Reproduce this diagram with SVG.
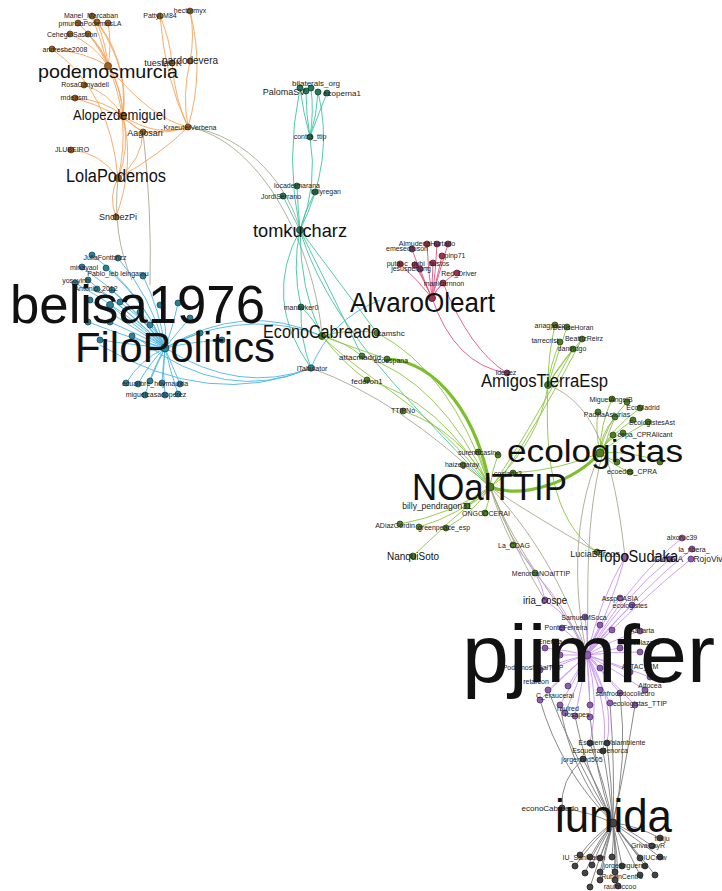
<svg xmlns="http://www.w3.org/2000/svg" width="722" height="891" viewBox="0 0 722 891">
<style>
path{fill:none;stroke-width:0.9}
.eo path{stroke:#f3a55c}
.eb path{stroke:#4db6e2}
.et path{stroke:#3fc3a0}
.ep path{stroke:#e2557f}
.eg path{stroke:#8bc540}
.eu path{stroke:#c894f0}
.ek path{stroke:#7d7d7d}
.ex path{stroke:#a8a88e}
.thick{stroke:#7cbf2c !important;stroke-width:3.2}
circle{stroke-width:0.8}
.no circle{fill:#a0621c;stroke:#5d3a12}
.nb circle{fill:#2d7f97;stroke:#1a4d5d}
.nt circle{fill:#227a5a;stroke:#124433}
.np circle{fill:#9e3353;stroke:#5e1a30}
.ng circle{fill:#4f7d22;stroke:#2c4a12}
.nu circle{fill:#8c5cae;stroke:#55336e}
.nk circle{fill:#444;stroke:#222}
text{font-family:"Liberation Sans",Arial,sans-serif;fill:#222}
.s{font-size:7px;text-anchor:middle}
.m{font-size:9px;text-anchor:middle}
.L{fill:#111}
</style>
<rect width="722" height="891" fill="#fff"/>
<g id="connectors">
<g class="eo">
<path d="M92,16 Q102,42 108,66"/><path d="M78,23 Q96,40 108,66"/><path d="M97,22 Q106,44 108,66"/><path d="M108,23 Q112,45 108,66"/>
<path d="M70,34 Q95,45 108,66"/><path d="M88,34 Q103,48 108,66"/><path d="M52,49 Q85,52 108,66"/>
<path d="M108,66 Q122,88 123,116"/><path d="M108,66 Q132,120 118,178"/><path d="M92,16 Q128,55 123,116"/>
<path d="M97,22 Q130,70 123,116"/><path d="M88,34 Q120,70 123,116"/><path d="M84,85 Q108,92 123,116"/>
<path d="M75,98 Q105,100 123,116"/><path d="M75,98 Q115,110 143,132"/><path d="M123,116 Q135,128 143,132"/>
<path d="M143,132 Q168,134 188,127"/><path d="M123,116 Q158,138 188,127"/><path d="M108,66 Q150,118 188,127"/>
<path d="M160,16 Q165,80 188,127"/><path d="M190,11 Q205,70 188,127"/><path d="M190,61 Q182,95 188,127"/>
<path d="M172,63 Q175,100 188,127"/><path d="M160,16 Q170,40 172,63"/><path d="M190,11 Q195,35 190,61"/>
<path d="M118,178 Q142,160 143,132"/><path d="M118,178 Q160,155 188,127"/><path d="M71,150 Q100,152 118,178"/>
<path d="M116,217 Q108,196 118,178"/><path d="M123,116 Q130,150 118,178"/><path d="M116,217 Q135,165 123,116"/>
<path d="M52,49 Q110,90 118,178"/>
</g>
<g class="ex">
<path d="M188,127 C250,135 290,190 300,230"/>
<path d="M188,127 C262,140 315,250 322,336"/>
<path d="M118,178 Q112,235 132,280"/>
<path d="M143,132 Q152,210 150,285"/>
<path d="M548,385 C600,405 615,470 625,557"/>
<path d="M490,487 Q500,520 513,545"/>
<path d="M490,487 Q510,540 535,573"/>
<path d="M490,487 Q520,560 545,600"/>
<path d="M490,487 C520,560 560,600 587,655"/>
<path d="M490,487 C540,540 570,600 587,655"/>
<path d="M490,487 Q540,520 597,552"/>
<path d="M600,453 C570,520 575,600 587,655"/>
<path d="M615,417 C580,500 590,600 587,655"/>
<path d="M311,368 Q400,400 490,487"/>
</g>
<g class="et">
<path d="M300,88 Q303,112 310,137"/><path d="M306,91 Q306,115 310,137"/><path d="M311,88 Q314,112 310,137"/>
<path d="M318,92 Q317,115 310,137"/><path d="M327,93 Q318,115 310,137"/>
<path d="M300,88 Q285,160 300,230"/><path d="M318,92 Q335,160 300,230"/>
<path d="M310,137 Q318,185 300,230"/><path d="M297,186 Q298,210 300,230"/><path d="M315,192 Q305,210 300,230"/>
<path d="M283,196 Q292,215 300,230"/><path d="M300,230 Q292,268 301,307"/><path d="M300,230 Q300,290 322,336"/>
<path d="M300,230 Q262,300 311,368"/><path d="M300,230 Q330,290 362,356"/><path d="M300,230 Q345,290 377,333"/>
<path d="M301,307 Q315,320 322,336"/><path d="M301,307 Q300,340 311,368"/>
<path d="M300,230 C330,330 420,410 490,487"/>
</g>
<g class="eb">
<path d="M92,255 Q140,290 165,348"/><path d="M118,258 Q150,295 165,348"/><path d="M82,267 Q130,300 165,348"/>
<path d="M106,268 Q145,300 165,348"/><path d="M143,276 Q160,310 165,348"/><path d="M75,283 Q125,310 165,348"/>
<path d="M88,280 Q130,312 165,348"/><path d="M97,289 Q135,315 165,348"/><path d="M112,290 Q145,318 165,348"/>
<path d="M90,300 Q130,325 165,348"/><path d="M120,302 Q150,325 165,348"/><path d="M160,305 Q168,328 165,348"/>
<path d="M178,303 Q172,330 165,348"/><path d="M140,312 Q158,330 165,348"/><path d="M110,322 Q140,335 165,348"/>
<path d="M88,322 Q130,338 165,348"/><path d="M150,325 Q160,338 165,348"/><path d="M100,340 Q135,345 165,348"/>
<path d="M132,336 Q150,345 165,348"/><path d="M200,333 Q180,340 165,348"/><path d="M222,340 Q190,342 165,348"/>
<path d="M190,318 Q175,335 165,348"/><path d="M126,383 Q140,360 165,348"/><path d="M138,384 Q150,362 165,348"/>
<path d="M150,381 Q158,362 165,348"/><path d="M162,383 Q163,365 165,348"/><path d="M180,384 Q172,365 165,348"/>
<path d="M145,395 Q152,370 165,348"/><path d="M165,395 Q162,372 165,348"/><path d="M178,394 Q170,370 165,348"/>
<path d="M110,305 Q140,330 165,348"/>
<path d="M165,348 Q240,395 311,368"/><path d="M140,340 Q225,405 311,368"/><path d="M100,345 Q210,410 311,368"/>
<path d="M165,348 Q245,300 322,336"/><path d="M180,340 Q255,310 322,336"/>
<path d="M311,368 Q330,320 380,300"/>
</g>
<g class="ep">
<path d="M427,244 Q428,270 432,298"/><path d="M437,244 Q436,270 432,298"/><path d="M448,244 Q440,270 432,298"/>
<path d="M412,249 Q420,275 432,298"/><path d="M442,256 Q437,278 432,298"/><path d="M400,264 Q418,280 432,298"/>
<path d="M415,265 Q425,282 432,298"/><path d="M433,263 Q432,280 432,298"/><path d="M420,269 Q426,285 432,298"/>
<path d="M457,273 Q440,282 432,298"/><path d="M443,283 Q436,290 432,298"/>
<path d="M432,298 Q455,365 507,373"/><path d="M443,283 Q470,350 507,373"/>
</g>
<g class="eg">
<path d="M322,336 Q345,342 362,356"/><path d="M322,336 Q350,328 377,333"/><path d="M322,336 Q360,350 387,359"/>
<path d="M322,336 Q345,365 367,380"/><path d="M322,336 C370,385 430,405 490,487"/>
<path d="M377,333 Q450,370 490,487"/><path d="M362,356 Q440,380 490,487"/><path d="M367,380 Q440,400 490,487"/>
<path d="M403,411 Q460,430 490,487"/>
<path class="thick" d="M387,359 C440,362 478,420 490,487"/>
<path class="thick" d="M490,487 C525,500 575,480 600,453"/>
<path d="M555,325 Q548,355 548,385"/><path d="M567,327 Q556,360 548,385"/><path d="M560,342 Q550,365 548,385"/>
<path d="M582,339 Q560,365 548,385"/><path d="M573,349 Q556,370 548,385"/>
<path d="M548,385 Q540,440 490,487"/><path d="M582,339 Q540,420 500,480"/><path d="M573,349 Q530,430 495,482"/>
<path d="M548,385 C545,450 550,520 597,552"/>
<path d="M612,399 Q600,425 600,453"/><path d="M627,402 Q605,425 600,453"/><path d="M640,408 Q610,430 600,453"/>
<path d="M598,412 Q595,430 600,453"/><path d="M615,417 Q600,435 600,453"/><path d="M633,420 Q610,435 600,453"/>
<path d="M648,422 Q615,440 600,453"/><path d="M623,433 Q605,440 600,453"/><path d="M613,435 Q603,445 600,453"/>
<path d="M660,462 Q630,450 600,453"/><path d="M630,472 Q612,465 600,453"/><path d="M617,462 Q607,458 600,453"/>
<path d="M478,452 Q485,470 490,487"/><path d="M498,455 Q492,470 490,487"/><path d="M463,465 Q478,475 490,487"/>
<path d="M513,473 Q500,478 490,487"/><path d="M467,506 Q480,500 490,487"/><path d="M485,513 Q490,500 490,487"/>
<path d="M400,524 Q450,515 490,487"/><path d="M419,527 Q460,515 490,487"/><path d="M446,528 Q475,512 490,487"/>
<path d="M413,556 Q450,520 490,487"/><path d="M600,453 Q560,470 513,473"/>
</g>
<g class="eu">
<path d="M513,545 Q540,570 545,600"/><path d="M535,573 Q565,605 587,655"/><path d="M545,600 Q575,620 587,655"/>
<path d="M625,557 Q600,600 587,655"/><path d="M625,557 Q612,605 587,655"/><path d="M682,538 Q630,580 587,655"/>
<path d="M692,549 Q640,590 587,655"/><path d="M670,559 Q625,595 587,655"/><path d="M691,559 Q640,600 587,655"/>
<path d="M620,598 Q600,625 587,655"/><path d="M632,605 Q605,630 587,655"/><path d="M585,617 Q588,635 587,655"/>
<path d="M562,628 Q578,640 587,655"/><path d="M600,625 Q592,640 587,655"/><path d="M612,630 Q598,642 587,655"/>
<path d="M640,631 Q612,640 587,655"/><path d="M545,648 Q566,650 587,655"/><path d="M560,655 Q574,655 587,655"/>
<path d="M620,648 Q604,650 587,655"/><path d="M640,652 Q612,652 587,655"/><path d="M540,670 Q565,660 587,655"/>
<path d="M555,667 Q572,660 587,655"/><path d="M600,668 Q594,660 587,655"/><path d="M630,672 Q608,662 587,655"/>
<path d="M650,677 Q618,665 587,655"/><path d="M548,690 Q570,670 587,655"/><path d="M568,686 Q578,670 587,655"/>
<path d="M600,690 Q592,670 587,655"/><path d="M620,693 Q602,672 587,655"/><path d="M645,690 Q615,670 587,655"/>
<path d="M540,700 Q565,675 587,655"/><path d="M560,705 Q575,680 587,655"/><path d="M590,705 Q588,680 587,655"/>
<path d="M610,703 Q598,680 587,655"/><path d="M635,705 Q610,680 587,655"/><path d="M565,713 Q578,685 587,655"/>
<path d="M575,716 Q582,685 587,655"/><path d="M590,717 Q590,685 587,655"/>
<path d="M587,655 Q600,700 590,743"/><path d="M587,655 Q615,700 607,743"/><path d="M587,655 Q610,710 603,751"/>
</g>
<g class="ek">
<path d="M590,743 Q605,785 613,823"/><path d="M607,743 Q612,785 613,823"/><path d="M603,751 Q610,790 613,823"/>
<path d="M583,759 Q600,790 613,823"/><path d="M583,759 Q560,780 562,808"/>
<path d="M560,705 Q570,770 613,823"/><path d="M575,716 Q585,770 613,823"/><path d="M590,717 Q595,770 613,823"/>
<path d="M610,703 Q615,770 613,823"/><path d="M635,705 Q625,770 613,823"/><path d="M620,693 Q628,760 613,823"/>
<path d="M540,700 Q560,770 613,823"/><path d="M548,690 Q575,760 613,823"/>
<path d="M660,838 Q635,825 613,823"/><path d="M652,846 Q630,830 613,823"/><path d="M580,855 Q595,835 613,823"/>
<path d="M590,857 Q600,838 613,823"/><path d="M600,858 Q607,840 613,823"/><path d="M612,857 Q614,840 613,823"/>
<path d="M640,858 Q625,840 613,823"/><path d="M660,857 Q635,838 613,823"/><path d="M575,866 Q592,842 613,823"/>
<path d="M592,865 Q600,845 613,823"/><path d="M622,866 Q618,845 613,823"/><path d="M645,866 Q630,845 613,823"/>
<path d="M585,873 Q595,848 613,823"/><path d="M600,872 Q605,848 613,823"/><path d="M615,872 Q616,848 613,823"/>
<path d="M640,875 Q628,850 613,823"/><path d="M655,875 Q635,850 613,823"/><path d="M600,880 Q605,852 613,823"/>
<path d="M615,880 Q616,852 613,823"/><path d="M590,887 Q600,855 613,823"/><path d="M618,886 Q618,855 613,823"/>
<path d="M562,808 Q590,812 613,823"/>
</g>
</g>
<g id="nodes-orange" class="no">
<g id="n-manel"><circle cx="92" cy="16" r="3"/><text class="s" x="91" y="18">Manel_Marcaban</text></g>
<g id="n-pmurcia"><circle cx="78" cy="23" r="3"/><circle cx="97" cy="22" r="3"/><circle cx="108" cy="23" r="3"/><text class="s" x="90" y="26">pmurciaPodemosLA</text></g>
<g id="n-cehegin"><circle cx="70" cy="34" r="3"/><circle cx="88" cy="34" r="3"/><text class="s" x="72" y="37">CeheginSastron</text></g>
<g id="n-andres"><circle cx="52" cy="49" r="3"/><text class="s" x="65" y="52">andresbe2008</text></g>
<g id="n-rosa"><circle cx="84" cy="85" r="3"/><text class="s" x="85" y="87">RosaCanyadell</text></g>
<g id="n-mdeasm"><circle cx="75" cy="98" r="3"/><text class="s" x="74" y="100">mdeasm</text></g>
<g id="n-kraeuter"><circle cx="188" cy="127" r="3"/><text class="s" x="190" y="130">KraeuterVerbena</text></g>
<g id="n-aagosari"><circle cx="143" cy="132" r="3"/><text class="m" x="145" y="136">Aagosari</text></g>
<g id="n-jlubeiro"><circle cx="71" cy="150" r="3"/><text class="s" x="72" y="152">JLUBEIRO</text></g>
<g id="n-snchezpi"><circle cx="116" cy="217" r="3"/><text class="m" x="118" y="220">SnchezPi</text></g>
<g id="n-patty"><circle cx="160" cy="16" r="3"/><text class="s" x="160" y="18">PattyLM84</text></g>
<g id="n-hector"><circle cx="190" cy="11" r="3"/><text class="s" x="190" y="13">hectormyx</text></g>
<g id="n-tuesta"><circle cx="172" cy="63" r="3"/><text class="m" x="163" y="66">tuestaOK</text></g>
<g id="n-pardo"><circle cx="190" cy="61" r="3"/><text class="m" x="190" y="64" style="font-size:10px">pardodevera</text></g>
<g id="n-podemosmurcia"><circle cx="108" cy="66" r="3.5"/><text class="L" x="38" y="78" font-size="19" textLength="140" lengthAdjust="spacingAndGlyphs">podemosmurcia</text></g>
<g id="n-alopez"><circle cx="123" cy="116" r="3.5"/><text class="L" x="73" y="120" font-size="15" textLength="93" lengthAdjust="spacingAndGlyphs">Alopezdemiguel</text></g>
<g id="n-lola"><circle cx="118" cy="178" r="3.5"/><text class="L" x="66" y="182" font-size="18" textLength="100" lengthAdjust="spacingAndGlyphs">LolaPodemos</text></g>
</g>
<g id="nodes-teal" class="nt">
<g id="n-bilaterals"><circle cx="300" cy="88" r="3"/><circle cx="311" cy="88" r="3"/><text class="s" x="316" y="86" style="font-size:8px">bilaterals_org</text></g>
<g id="n-paloma"><circle cx="306" cy="91" r="3"/><circle cx="318" cy="92" r="3"/><text class="m" x="284" y="95">PalomaSV</text></g>
<g id="n-ecoperna"><circle cx="327" cy="93" r="3"/><text class="s" x="342" y="96" style="font-size:8px">ecoperna1</text></g>
<g id="n-contra"><circle cx="310" cy="137" r="3"/><text class="s" x="310" y="139">contra_ttip</text></g>
<g id="n-loca"><circle cx="297" cy="186" r="3"/><text class="s" x="297" y="188">locadelmarana</text></g>
<g id="n-billyregan"><circle cx="315" cy="192" r="3"/><text class="s" x="326" y="194">billyregan</text></g>
<g id="n-jordi"><circle cx="283" cy="196" r="3"/><text class="s" x="281" y="199">JordiSerrano</text></g>
<g id="n-mandoker"><circle cx="301" cy="307" r="3"/><text class="s" x="301" y="310">manavker0</text></g>
<g id="n-tomkucharz"><circle cx="300" cy="230" r="3.5"/><text class="L" x="253" y="237" font-size="19" textLength="94" lengthAdjust="spacingAndGlyphs">tomkucharz</text></g>
</g>
<g id="nodes-blue" class="nb">
<g id="n-julia"><circle cx="92" cy="255" r="3"/><circle cx="118" cy="258" r="3"/><text class="s" x="105" y="260">JuliaFontbrizz</text></g>
<g id="n-mina"><circle cx="82" cy="267" r="3"/><circle cx="106" cy="268" r="3"/><text class="s" x="84" y="270">minayaol</text></g>
<g id="n-leb"><circle cx="143" cy="276" r="3"/><text class="s" x="118" y="276">Pablo_leb lelngamu</text></g>
<g id="n-yos"><circle cx="75" cy="283" r="3"/><circle cx="88" cy="280" r="3"/><text class="s" x="76" y="283">yosoyinh</text></g>
<g id="n-ant"><circle cx="97" cy="289" r="3"/><circle cx="112" cy="290" r="3"/><text class="s" x="96" y="291">Antonio_2012</text></g>
<g id="n-b-misc"><circle cx="90" cy="300" r="3"/><circle cx="120" cy="302" r="3"/><circle cx="160" cy="305" r="3"/><circle cx="178" cy="303" r="3"/><circle cx="140" cy="312" r="3"/><circle cx="110" cy="322" r="3"/><circle cx="88" cy="322" r="3"/><circle cx="150" cy="325" r="3"/><circle cx="100" cy="340" r="3"/><circle cx="132" cy="336" r="3"/><circle cx="200" cy="333" r="3"/><circle cx="222" cy="340" r="3"/><circle cx="190" cy="318" r="3"/></g>
<g id="n-ecua"><circle cx="126" cy="383" r="3"/><circle cx="138" cy="384" r="3"/><circle cx="150" cy="381" r="3"/><circle cx="162" cy="383" r="3"/><circle cx="180" cy="384" r="3"/><text class="s" x="155" y="386">ecualibre_hoymauxia</text></g>
<g id="n-miguelp"><circle cx="145" cy="395" r="3"/><circle cx="165" cy="395" r="3"/><circle cx="178" cy="394" r="3"/><text class="s" x="156" y="397">miguelcasadoperez</text></g>
<g id="n-itab"><circle cx="311" cy="368" r="3.2"/><text class="s" x="312" y="371">ITabulator</text></g>
<g id="n-belisa"><circle cx="110" cy="305" r="3.5"/><text class="L" x="10" y="323" font-size="54" textLength="255" lengthAdjust="spacingAndGlyphs">belisa1976</text></g>
<g id="n-filo"><circle cx="165" cy="348" r="4"/><text class="L" x="75" y="362" font-size="43" textLength="200" lengthAdjust="spacingAndGlyphs">FiloPolitics</text></g>
</g>
<g id="nodes-pink" class="np">
<g id="n-almud"><circle cx="427" cy="244" r="3"/><circle cx="437" cy="244" r="3"/><circle cx="448" cy="244" r="3"/><text class="s" x="427" y="246">AlmudenaHurtado</text></g>
<g id="n-emese"><circle cx="412" cy="249" r="3"/><text class="s" x="407" y="251">emesedtuson</text></g>
<g id="n-pinp"><circle cx="442" cy="256" r="3"/><text class="s" x="455" y="258">pinp71</text></g>
<g id="n-putao"><circle cx="400" cy="264" r="3"/><circle cx="415" cy="265" r="3"/><circle cx="433" cy="263" r="3"/><text class="s" x="418" y="266">putaoc_dubi_bustos</text></g>
<g id="n-jesus"><circle cx="420" cy="269" r="3"/><text class="s" x="411" y="271">jesusperlong</text></g>
<g id="n-red"><circle cx="457" cy="273" r="3"/><text class="s" x="459" y="276">Red_Driver</text></g>
<g id="n-mani"><circle cx="443" cy="283" r="3"/><text class="s" x="444" y="286">manicarnnon</text></g>
<g id="n-idedez"><circle cx="507" cy="373" r="3"/><text class="s" x="506" y="375">idedez</text></g>
<g id="n-alvaro"><circle cx="432" cy="298" r="3.5"/><text class="L" x="350" y="312" font-size="27" textLength="145" lengthAdjust="spacingAndGlyphs">AlvaroOleart</text></g>
</g>
<g id="nodes-green" class="ng">
<g id="n-camshc"><circle cx="377" cy="333" r="3"/><text class="s" x="391" y="336" style="font-size:8px">camshc</text></g>
<g id="n-attac"><circle cx="362" cy="356" r="3"/><text class="s" x="360" y="360" style="font-size:8px">attacmadrid</text></g>
<g id="n-ecoes"><circle cx="387" cy="359" r="3"/><text class="s" x="391" y="363">ecoespana</text></g>
<g id="n-fed"><circle cx="367" cy="380" r="3"/><text class="s" x="367" y="384" style="font-size:8px">federon1</text></g>
<g id="n-ttipno"><circle cx="403" cy="411" r="3"/><text class="s" x="403" y="413">TTIPNo</text></g>
<g id="n-econo"><circle cx="322" cy="336" r="3.5"/><text class="L" x="263" y="338" font-size="18" textLength="117" lengthAdjust="spacingAndGlyphs">EconoCabreado</text></g>
<g id="n-anag"><circle cx="555" cy="325" r="3"/><text class="s" x="550" y="328">anagpaco</text></g>
<g id="n-denise"><circle cx="567" cy="327" r="3"/><text class="s" x="573" y="330">DeniseHoran</text></g>
<g id="n-tarre"><circle cx="560" cy="342" r="3"/><text class="s" x="545" y="343">tarrecrist</text></g>
<g id="n-beatriz"><circle cx="582" cy="339" r="3"/><text class="s" x="584" y="341">BeatrizReirz</text></g>
<g id="n-dan"><circle cx="573" cy="349" r="3"/><text class="s" x="572" y="351">danindgo</text></g>
<g id="n-amigos"><circle cx="548" cy="385" r="3.5"/><text class="L" x="481" y="387" font-size="17.5" textLength="127" lengthAdjust="spacingAndGlyphs">AmigosTierraEsp</text></g>
<g id="n-miguelab"><circle cx="612" cy="399" r="3"/><circle cx="627" cy="402" r="3"/><text class="s" x="611" y="402">MiguelAngelB</text></g>
<g id="n-ecomadrid"><circle cx="640" cy="408" r="3"/><text class="s" x="643" y="410">EcoMadrid</text></g>
<g id="n-padilla"><circle cx="598" cy="412" r="3"/><circle cx="615" cy="417" r="3"/><circle cx="633" cy="420" r="3"/><text class="s" x="607" y="417">PadillaAsturias</text></g>
<g id="n-ecoast"><circle cx="648" cy="422" r="3"/><text class="s" x="652" y="425">EcologistesAst</text></g>
<g id="n-cpra-a"><circle cx="623" cy="433" r="3"/><circle cx="613" cy="435" r="3"/><text class="s" x="645" y="437">cepa_CPRAlicant</text></g>
<g id="n-cpra"><circle cx="630" cy="472" r="3"/><circle cx="617" cy="462" r="3"/><circle cx="660" cy="462" r="3"/><text class="s" x="632" y="474">ecoedes_CPRA</text></g>
<g id="n-ecologistas"><circle cx="600" cy="453" r="4"/><text class="L" x="507" y="462" font-size="31" textLength="176" lengthAdjust="spacingAndGlyphs">ecologistas</text></g>
<g id="n-suren"><circle cx="478" cy="452" r="3"/><circle cx="498" cy="455" r="3"/><text class="s" x="479" y="455">surenrtcasino</text></g>
<g id="n-haize"><circle cx="463" cy="465" r="3"/><text class="s" x="462" y="467">haizegaray</text></g>
<g id="n-cosi"><circle cx="513" cy="473" r="3"/><text class="s" x="508" y="476">coslada3</text></g>
<g id="n-billyp"><circle cx="467" cy="506" r="3"/><text class="s" x="437" y="509" style="font-size:8.5px">billy_pendragon31</text></g>
<g id="n-ong"><circle cx="485" cy="513" r="3"/><text class="s" x="486" y="516">ONGCOCERAI</text></g>
<g id="n-adiaz"><circle cx="400" cy="524" r="3"/><circle cx="419" cy="527" r="3"/><text class="s" x="395" y="528">ADiazGordin</text></g>
<g id="n-greenpeace"><circle cx="446" cy="528" r="3"/><text class="s" x="444" y="530">greenpeace_esp</text></g>
<g id="n-nanqui"><circle cx="413" cy="556" r="3"/><text class="L" x="387" y="560" font-size="11" textLength="52" lengthAdjust="spacingAndGlyphs">NanquiSoto</text></g>
<g id="n-lacdag"><circle cx="513" cy="545" r="3"/><text class="s" x="514" y="548">La_CDAG</text></g>
<g id="n-menorca"><circle cx="535" cy="573" r="3"/><text class="s" x="541" y="576">MenorcaNOalTTIP</text></g>
<g id="n-lucia"><circle cx="597" cy="552" r="3"/><text class="m" x="595" y="557">LuciaBarcos</text></g>
<g id="n-noalttip"><circle cx="490" cy="487" r="4"/><text class="L" x="412" y="500" font-size="37" textLength="155" lengthAdjust="spacingAndGlyphs">NOalTTIP</text></g>
</g>
<g id="nodes-purple" class="nu">
<g id="n-iria"><circle cx="545" cy="600" r="3"/><text class="L" x="523" y="604" font-size="11.5" textLength="44" lengthAdjust="spacingAndGlyphs">iria_cospe</text></g>
<g id="n-alx"><circle cx="682" cy="538" r="3"/><text class="s" x="682" y="540">alxoruc39</text></g>
<g id="n-ribera"><circle cx="692" cy="549" r="3"/><text class="s" x="694" y="552">la_ribera_</text></g>
<g id="n-global"><circle cx="670" cy="559" r="3"/><text class="s" x="668" y="562" style="font-size:8.5px">GlobalA</text></g>
<g id="n-rojo"><circle cx="691" cy="559" r="3"/><text class="s" x="708" y="562" style="font-size:8.5px">RojoViv</text></g>
<g id="n-topo"><circle cx="625" cy="557" r="3.5"/><text class="L" x="597" y="562" font-size="16" textLength="81" lengthAdjust="spacingAndGlyphs">TopoSudaka</text></g>
<g id="n-assp"><circle cx="620" cy="598" r="3"/><text class="s" x="620" y="601">AsspCASIA</text></g>
<g id="n-ecologistes"><circle cx="632" cy="605" r="3"/><text class="s" x="630" y="608">ecologistes</text></g>
<g id="n-samuel"><circle cx="585" cy="617" r="3"/><text class="s" x="584" y="620">SamuelMSoca</text></g>
<g id="n-ponte"><circle cx="562" cy="628" r="3"/><text class="s" x="566" y="630">PonteFerreira</text></g>
<g id="n-anar"><circle cx="600" cy="625" r="3"/><circle cx="612" cy="630" r="3"/><circle cx="640" cy="631" r="3"/><text class="s" x="642" y="633">Aanarta</text></g>
<g id="n-energia"><circle cx="545" cy="648" r="3"/><circle cx="560" cy="655" r="3"/><text class="s" x="550" y="644">Energia</text></g>
<g id="n-blaz"><circle cx="620" cy="648" r="3"/><circle cx="640" cy="652" r="3"/><text class="s" x="642" y="645">Ecoblazara</text></g>
<g id="n-podno"><circle cx="540" cy="670" r="3"/><circle cx="555" cy="667" r="3"/><text class="s" x="533" y="670">PodemosNOalTTIP</text></g>
<g id="n-attacrm"><circle cx="600" cy="668" r="3"/><circle cx="630" cy="672" r="3"/><circle cx="650" cy="677" r="3"/><text class="s" x="640" y="669">ATTAC_RM</text></g>
<g id="n-retar"><circle cx="548" cy="690" r="3"/><circle cx="568" cy="686" r="3"/><text class="s" x="536" y="684">retarcon</text></g>
<g id="n-alfocea"><circle cx="600" cy="690" r="3"/><circle cx="620" cy="693" r="3"/><circle cx="645" cy="690" r="3"/><text class="s" x="650" y="688">Alfocea</text></g>
<g id="n-cgil"><circle cx="540" cy="700" r="3"/><circle cx="560" cy="705" r="3"/><text class="s" x="555" y="698">C_eraucerai</text></g>
<g id="n-coliedro"><circle cx="590" cy="705" r="3"/><circle cx="610" cy="703" r="3"/><text class="s" x="625" y="696">sanfrocedocoliedro</text></g>
<g id="n-ecottip"><circle cx="635" cy="705" r="3"/><text class="s" x="640" y="706">ecologistas_TTIP</text></g>
<g id="n-raul"><circle cx="565" cy="713" r="3"/><circle cx="575" cy="716" r="3"/><circle cx="590" cy="717" r="3"/><text class="s" x="568" y="711">raulred</text><text class="s" x="577" y="717">rosapes</text></g>
<g id="n-pjimfer"><circle cx="587" cy="655" r="4"/><text class="L" x="462" y="682" font-size="82" textLength="253" lengthAdjust="spacingAndGlyphs">pjimfer</text></g>
</g>
<g id="nodes-gray" class="nk">
<g id="n-esquerra"><circle cx="590" cy="743" r="3"/><circle cx="607" cy="743" r="3"/><text class="s" x="612" y="745">EsquerraValambiente</text></g>
<g id="n-esqmen"><circle cx="603" cy="751" r="3"/><text class="s" x="600" y="753">EsquerraMenorca</text></g>
<g id="n-jorge"><circle cx="583" cy="759" r="3"/><text class="s" x="582" y="762">jorgenord505</text></g>
<g id="n-econoc"><circle cx="562" cy="808" r="3"/><text class="s" x="550" y="811" style="font-size:8px">econoCabreado</text></g>
<g id="n-fraiju"><circle cx="660" cy="838" r="3"/><text class="s" x="662" y="841">fraiju</text></g>
<g id="n-griva"><circle cx="652" cy="846" r="3"/><text class="s" x="648" y="848">GrivaCayR</text></g>
<g id="n-iusan"><circle cx="580" cy="855" r="3"/><circle cx="590" cy="857" r="3"/><circle cx="600" cy="858" r="3"/><text class="s" x="584" y="860">IU_SanMartin</text></g>
<g id="n-grow"><circle cx="612" cy="857" r="3"/><circle cx="640" cy="858" r="3"/><circle cx="660" cy="857" r="3"/><text class="s" x="655" y="860">IUCrow</text></g>
<g id="n-jorgeang"><circle cx="575" cy="866" r="3"/><circle cx="592" cy="865" r="3"/><circle cx="622" cy="866" r="3"/><circle cx="645" cy="866" r="3"/><text class="s" x="625" y="868">jorgeanguerra</text></g>
<g id="n-ruben"><circle cx="585" cy="873" r="3"/><circle cx="600" cy="872" r="3"/><circle cx="615" cy="872" r="3"/><circle cx="640" cy="875" r="3"/><circle cx="655" cy="875" r="3"/><text class="s" x="622" y="879">RubenCentro</text></g>
<g id="n-rocco"><circle cx="600" cy="880" r="3"/><circle cx="615" cy="880" r="3"/><circle cx="590" cy="887" r="3"/><circle cx="618" cy="886" r="3"/><text class="s" x="620" y="889">raulroccoo</text></g>
<g id="n-iunida"><circle cx="613" cy="823" r="4"/><text class="L" x="555" y="832" font-size="47" textLength="117" lengthAdjust="spacingAndGlyphs">iunida</text></g>
</g>
</svg>
